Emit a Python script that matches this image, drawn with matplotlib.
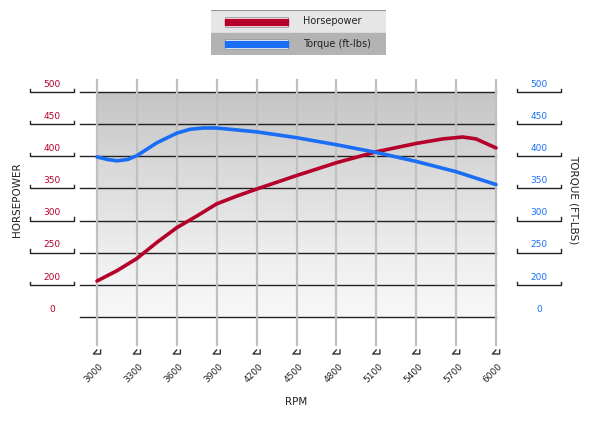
import matplotlib
matplotlib.use("Agg")
import matplotlib.pyplot as plt
import numpy as np
from matplotlib.transforms import blended_transform_factory as btf

rpm_ticks = [3000, 3300, 3600, 3900, 4200, 4500, 4800, 5100, 5400, 5700, 6000]
y_levels = [150, 200, 250, 300, 350, 400, 450, 500]
y_labels = ["0", "200", "250", "300", "350", "400", "450", "500"]

hp_rpm = [3000, 3150, 3300, 3450, 3600, 3750, 3900, 4050, 4200, 4500, 4800, 5100, 5400, 5600, 5750, 5850, 6000]
hp = [206, 222, 241, 266, 289, 307, 326, 338, 349, 370, 390, 407, 420, 427, 430, 427, 413]
tq_rpm = [3000, 3080, 3150, 3230, 3300, 3450, 3600, 3700, 3800, 3900, 4050, 4200, 4500, 4800, 5100, 5400, 5700, 6000]
tq = [399, 395, 393, 395, 401, 421, 436, 442, 444, 444, 441, 438, 429, 418, 406, 392, 376, 356]

red = "#b5002a"
blue = "#1a6ef5"

fig = plt.figure(figsize=(6.03, 4.26), dpi=100)
ax = fig.add_axes([97/603, 1-317/426, 399/603, 225/426])
ax.set_xlim(3000, 6000)
ax.set_ylim(150, 500)
ax.axis("off")

# gradient background
grad = np.linspace(0, 1, 256).reshape(-1, 1)
ax.imshow(grad, extent=[3000, 6000, 130, 500], aspect="auto", cmap="Greys",
          vmin=-0.15, vmax=3.2, origin="lower", zorder=0)

trx = btf(ax.transAxes, ax.transData)
for y in y_levels:
    ax.plot([-17/399, 1], [y, y], color="#222222", lw=1, transform=trx, clip_on=False, zorder=1)
try_ = btf(ax.transData, ax.transAxes)
for x in rpm_ticks:
    ax.plot([x, x], [1+12/225, -28/225], color="#c0c0c0", lw=1.6, transform=try_, clip_on=False, zorder=1)
    ax.plot([x-330/1000*0.33*3000/399*1.2/1.2, x-82*0.33, x+82*0.33, x+82*0.33],
            [-33/225, -37/225, -37/225, -33/225], color="#333333", lw=1, transform=try_, clip_on=False)
    ax.text(x + 15, -45/225, str(x), rotation=45, ha="right", va="top", fontsize=6.5,
            color="#222222", transform=try_, rotation_mode="anchor")

# left/right axis labels with brackets
for y, lab in zip(y_levels, y_labels):
    ax.text(-45/399, y + 12, lab, ha="center", va="center", fontsize=6.5, color=red, transform=trx)
    ax.text(1 + 43/399, y + 12, lab, ha="center", va="center", fontsize=6.5, color=blue, transform=trx)
    if lab != "0":
        for cx in (-45/399, 1 + 43/399):
            ax.plot([cx-22/399, cx-22/399, cx+22/399, cx+22/399], [y+5, y, y, y+5],
                    color="#222222", lw=1, transform=trx, clip_on=False)

ax.plot(hp_rpm, hp, color=red, lw=2.6, solid_capstyle="round", zorder=3, clip_on=False)
ax.plot(tq_rpm, tq, color=blue, lw=2.6, solid_capstyle="round", zorder=3, clip_on=False)

fig.text(17/603, 1-200/426, "HORSEPOWER", rotation=90, ha="center", va="center", fontsize=7.5, color="#222222")
fig.text(574/603, 1-200/426, "TORQUE (FT-LBS)", rotation=270, ha="center", va="center", fontsize=7.5, color="#222222")
fig.text(296/603, 1-402/426, "RPM", ha="center", va="center", fontsize=7.5, color="#222222")

# legend boxes
la = fig.add_axes([211/603, 1-55/426, 175/603, 45/426])
la.set_xlim(0, 175); la.set_ylim(0, 45); la.axis("off")
la.add_patch(plt.Rectangle((0, 22.5), 175, 22.5, color="#e6e6e6"))
la.add_patch(plt.Rectangle((0, 0), 175, 22.5, color="#b3b3b3"))
la.plot([0, 175], [45, 45], color="#999999", lw=0.8)
for yc, c, t in [(33.5, red, "Horsepower"), (11, blue, "Torque (ft-lbs)")]:
    la.add_patch(plt.Rectangle((14, yc-5), 63, 10, facecolor="white", edgecolor="#888888", lw=0.5))
    la.add_patch(plt.Rectangle((14, yc-3), 63, 6, color=c))
    la.text(92, yc, t, va="center", fontsize=7, color="#222222")

fig.savefig("out.png", dpi=100)
